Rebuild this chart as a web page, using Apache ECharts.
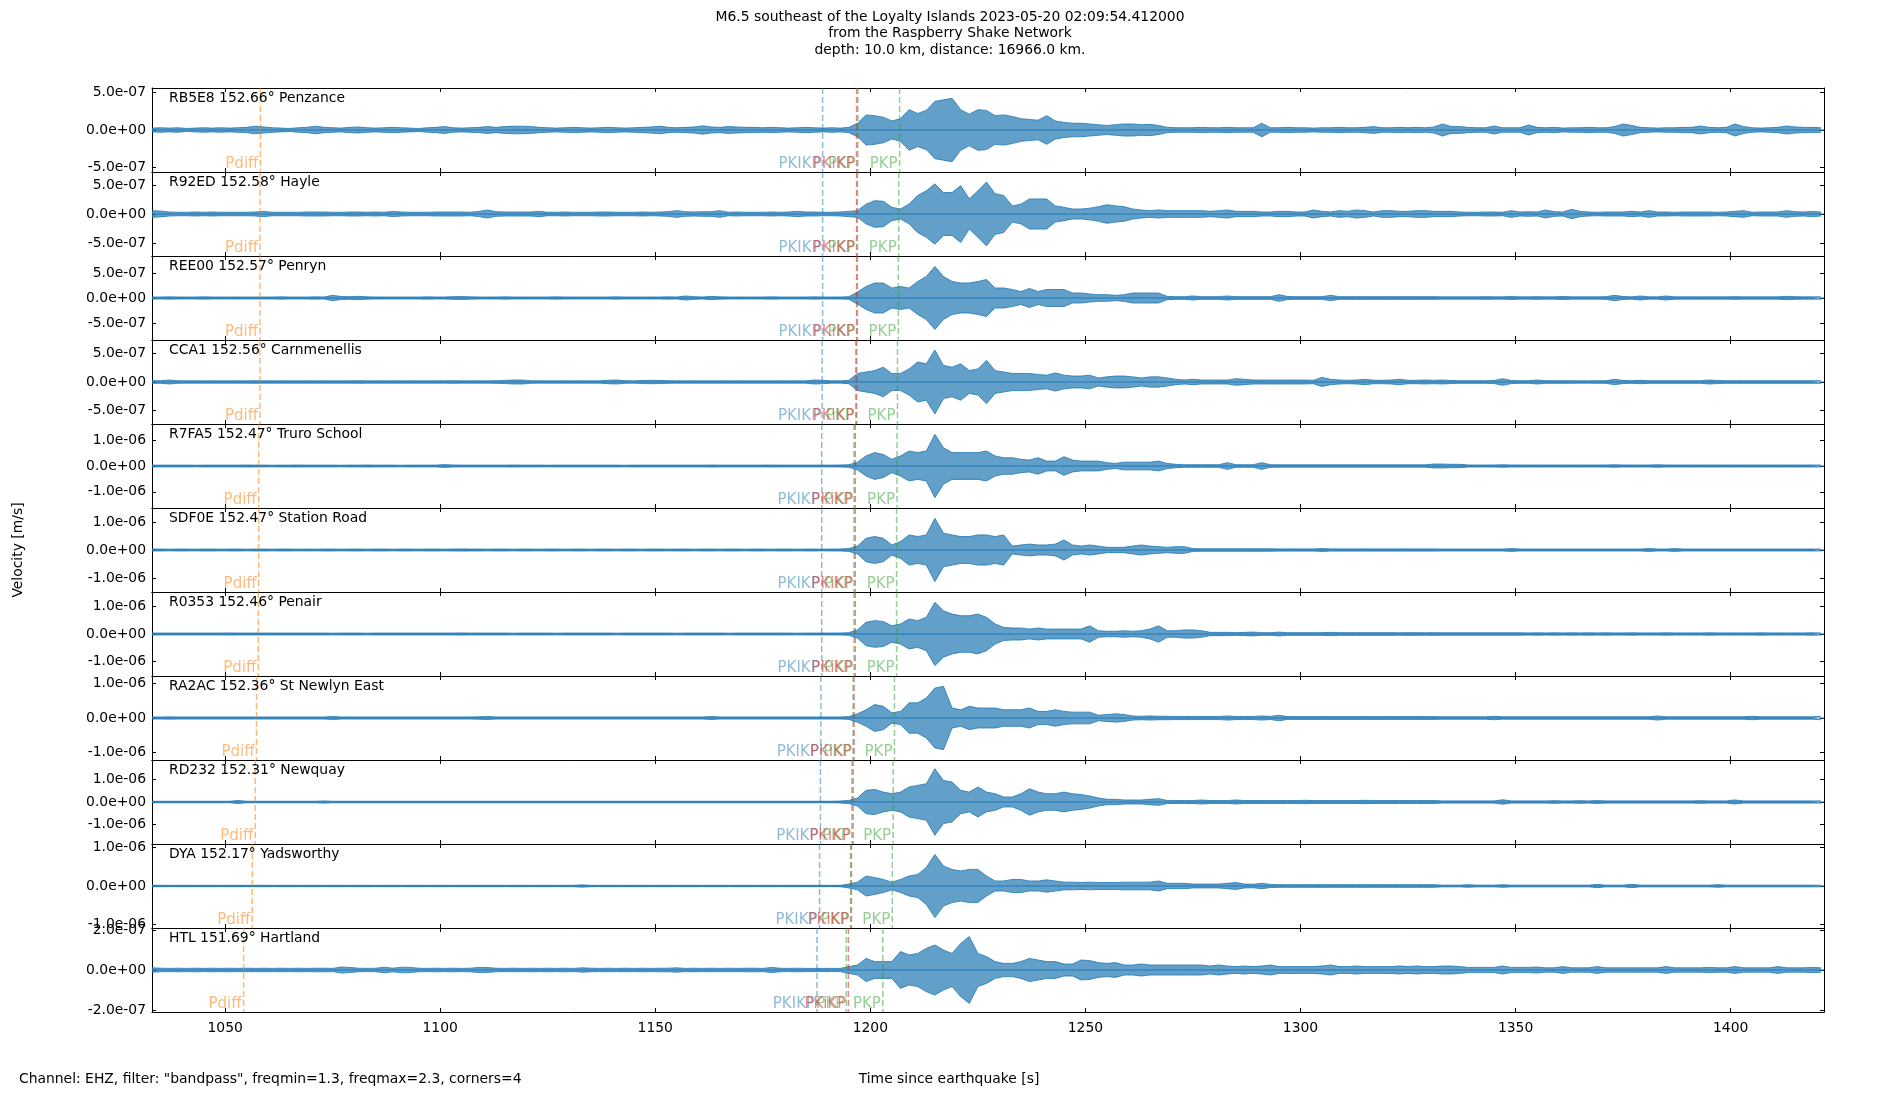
<!DOCTYPE html>
<html>
<head>
<meta charset="utf-8">
<script src="https://cdn.jsdelivr.net/npm/echarts@6/dist/echarts.min.js"></script>
<style>
  html, body { margin: 0; padding: 0; background: #fff; }
  #chart { width: 1900px; height: 1100px; }
</style>
</head>
<body>
<div id="chart"></div>
<script>
// stations, top to bottom
const stationCodes = ['RB5E8', 'R92ED', 'REE00', 'CCA1', 'R7FA5', 'SDF0E', 'R0353', 'RA2AC', 'RD232', 'DYA', 'HTL'];
const distances = ['152.66', '152.58', '152.57', '152.56', '152.47', '152.47', '152.46', '152.36', '152.31', '152.17', '151.69'];
const places = ['Penzance', 'Hayle', 'Penryn', 'Carnmenellis', 'Truro School', 'Station Road', 'Penair', 'St Newlyn East', 'Newquay', 'Yadsworthy', 'Hartland'];

// y limits and tick step of every panel [m/s]
const yLimits = [5.57e-7, 7.24e-7, 8.4e-7, 7.37e-7, 1.63e-6, 1.5e-6, 1.54e-6, 1.22e-6, 1.87e-6, 1.09e-6, 2.1e-7];
const yTickSteps = [5e-7, 5e-7, 5e-7, 5e-7, 1e-6, 1e-6, 1e-6, 1e-6, 1e-6, 1e-6, 2e-7];

// time axis [s since earthquake]
const xMin = 1033.0, xMax = 1421.7;
const xTicks = [1050, 1100, 1150, 1200, 1250, 1300, 1350, 1400];

// predicted arrivals [s]
const pdiffTimes = [1058.2, 1058.1, 1058.1, 1058.1, 1057.8, 1057.8, 1057.7, 1057.3, 1057.0, 1056.3, 1054.3];
const pkikpTimes = [1188.9, 1188.9, 1188.9, 1188.8, 1188.7, 1188.7, 1188.7, 1188.5, 1188.4, 1188.2, 1187.6];
const pkiKpTimes = [1196.8, 1196.8, 1196.8, 1196.8, 1196.5, 1196.5, 1196.5, 1196.2, 1196.0, 1195.6, 1194.9];
const pkpATimes = [1197.1, 1197.0, 1197.0, 1196.6, 1196.2, 1196.2, 1196.2, 1196.0, 1195.7, 1195.4, 1194.4];
const pkpBTimes = [1206.8, 1206.6, 1206.5, 1206.3, 1206.2, 1206.1, 1206.1, 1205.6, 1205.3, 1205.1, 1202.9];
const phaseNames = ['Pdiff', 'PKIKP', 'PKiKP', 'PKP'];
const phaseColors = ['rgba(255,127,14,0.55)', 'rgba(31,119,180,0.5)', 'rgba(214,39,40,0.55)', 'rgba(44,160,44,0.5)'];

// trace envelopes: peak |velocity| in 1e-8 m/s, one value every 2 s from 1033 s
const envStart = 1033, envStep = 2, envUnit = 1e-8;
const envRB5E8 = [2.5,3,2.5,3,2,2.5,3,2.5,3,2.5, 3,3.5,5,4,3,2.5,2,3,3.5,5, 3.5,3,2.5,3.5,4,3,2.5,3,3.5,3,
  2.5,2,3,3.5,4.5,3,2.5,3,3.5,4.5, 3.5,4.5,5,5,4.5,3.5,3,2.5,3,3.5, 3,2.5,3,3.5,3,2.5,3,3.5,4,5,
  3.5,3,3.5,4,5.5,4,3.5,4.5,4,3.5, 3.5,3,3.5,3,2.5,3,3.5,3,2.5,3, 2.5,3.5,9,20,19,17,12,15,27,22,
  26,38,40,42,27,21,27,26,19,20, 18,15,14,13,19,12,10,9,9,8, 7,6,7,8,8,7,7.5,6,3.5,3,
  3,3,3.5,3,3,3.5,3,3,3,9, 3,3,3.5,3,3,2.5,3,3,3.5,3, 3,3.5,4.5,3,3,3.5,3,3.5,3,4,
  8,4.5,4.5,3.5,3,3,5.3,3,3,3, 6.7,3.5,3,3.5,2.5,3,3,3.5,3,3, 4.5,8,6,3.5,3,2.5,3,3,3.5,3.5,
  5.3,3.5,3,3.5,8,4.5,3,2.5,3,3.5, 5.3,4,3.5,3.5,3];
const envR92ED = [5.8,5,3.5,3,3,3.5,3,3.5,3,3, 3,3,3.5,4.5,3,3,3,3,3.5,3.5, 3.5,3,3,3.5,3.5,3,3.5,3,4.5,3.5,
  3,3,3,3.5,3.5,3.5,3.5,3,4.5,6.9, 4,3.5,3.5,3.5,3.5,4.6,3,3,3.5,3, 3,3,3.5,3.5,3,3,3,3.5,3,3.5,
  4,5.8,4,3.5,4,4,5.8,3,3.5,3, 3,3,3.5,3,3.5,4.6,3.5,3.5,3,3, 3.5,4.6,5.8,17,23,22,11.5,8.6,17,32,
  40,52,37,37,49,26,40,55,35,32, 14,17,26,26,26,14,11.5,8.6,8.6,10, 12.6,16,14,12.6,8.6,7,5.8,7,5.8,5.8,
  5.8,5.8,5.8,4.6,5.8,7,4.6,4.6,4.6,3.5, 3.5,4.6,4.6,3.5,3.5,7,4.6,3.5,5.8,4.6, 7,5.8,3.5,5.8,5.8,4.6,4.6,5.8,5.8,4.6,
  4.6,4.6,3.5,3,3,3.5,3.5,3,5.8,3.5, 4,3.5,6.9,4,3.5,8,4.6,3.5,3,3.5, 3.5,3.5,4.6,3.5,5.8,3.5,3.5,3,3.5,3.5,
  3.5,3.5,3,3.5,4.6,5.8,3,3.5,3.5,3.5, 5.8,4,3.5,4.5,3.5];
const envREE00 = [2,2,2.3,2,2,2,2.3,2,2,2, 2,2,2,2,2,2.3,2,2,2,2.3, 2,5.3,3,2.7,3.3,2.3,2,2,2,2,
  2,2,2.3,2,2,2.7,3,2.3,2,2, 2,2.3,2,2,2,2,2,2.3,2,2, 2,2,2,2,2.3,2,2,2,2,2,
  2.3,2,4,2.7,2,3.3,2.3,2,2,2, 2,2,2.3,2,2,2,2,2.3,2,2, 2,2.7,12,23,30,30,20,23,20,33,
  43,63,43,33,30,30,33,37,20,20, 17,13,19,13,17,17,17,10,10,8, 6.7,6.7,5.3,6.7,10,10,10,10,3.3,2.7,
  2.7,4,2.7,2.7,2.7,4,2.7,2.7,2.7,2.7, 2.7,6.7,3,2.7,2.7,2.7,2.7,5.3,2.7,2.7, 2.7,2.7,2.7,2.7,2.7,2.7,2.7,2.7,2.7,2.7,
  2.3,2.3,2.3,2.3,2.3,2.7,2.3,2.3,3,2.3, 2.3,2.7,2.3,2.3,3,2.3,2.3,2.3,2.3,2.7, 5.3,3,2.3,4,2.3,2.3,4,2.3,2.3,2.3,
  2.3,2.3,2.3,2.3,2.7,2.3,2.3,2.3,2.3,2.3, 3.3,2.7,2.3,2.3,2.3];
const envCCA1 = [2.3,2.3,3.5,2.3,2,2,2,2,2,2, 2,2,2.3,2,2,2,2,2,2,2, 2,2,2,2,2.3,2,2,2,2,2,
  2,2,2,2,2,2.3,2,2,2,2, 2.3,2.7,3.5,3.5,2.3,2,2,2,2,2, 2,2,2,3,3.5,2.3,2,2.7,3,2.7,
  2.3,2,2,2,2,2,2,2,2,2, 2,2,2,2,2,2,2,3.5,3,2, 2,3,15,17.5,20,26,15,15,23,35,
  32,56,29,26,32,20,23,38,20,17.5, 15,15,15,13,12,16,12,10.5,10.5,12, 7,9,10.5,10.5,9,7,9,9,7,4.7,
  3.5,4.7,3.5,3.5,3.5,3.5,5.8,4.7,3.5,3.5, 3.5,3.5,3.5,3.5,3.5,3,8,4.7,3.5,3, 3.5,4.7,3,3,3.5,4.7,3,3,3.5,3,
  3.5,2.7,2.3,2.3,2.3,2.3,2.7,5.8,2.7,2.3, 2.3,3.5,2.3,2.3,2.3,2.3,2,2,2.3,2.3, 4.7,2.7,2.3,3,2.3,2.3,2.3,2.3,2.3,2.3,
  2.3,3.5,2.7,2.3,2.3,2.3,2.3,2.3,2.3,2.3, 2.3,2.3,2.3,2.3,2.3];
const envR7FA5 = [3.5,3.5,3.5,3.5,3.5,3,3.5,3.5,3.5,3.5, 3.5,4,3.5,3.5,3,3.5,3.5,4,3.5,3.5, 3.5,3.5,3,3.5,3.5,4,3.5,3.5,3.5,3,
  3.5,3.5,3.5,3.5,5.5,4,3.5,3.5,3.5,3.5, 3.5,3.5,4,3.5,3.5,3.5,3,3.5,3.5,3.5, 3.5,3.5,3.5,3.5,3.5,3,3.5,3.5,3.5,3.5,
  3.5,3.5,3.5,3.5,3.5,4,3.5,3.5,3.5,3.5, 3.5,3.5,4,3.5,3.5,3.5,3.5,3.5,3.5,3.5, 3.9,5,15,39,52,45,26,39,58,52,
  58,123,71,52,52,52,52,58,39,32, 32,26,23,32,19,19,36,23,19,19, 19,13,10,15,15,15,15,19,10,6.5,
  5,5,5,5,5,13,5,5,5,13, 5,4.5,4.5,4.5,4.5,4.5,4.5,4.5,4.5,4.5, 4.5,4.5,4.5,4.5,4.5,4.5,4.5,4.5,4.5,7.7,
  7.7,6.5,6.5,4,4,4,4,5,4,4, 4,4,4,4,4,4,4,4,4,4, 5,4,4,4,4,5,4,4,4,4,
  4,4,4,4,4,4,4,4,4,4, 4,4,4,4,4];
const envSDF0E = [3.5,3.5,3,3.5,3.5,3,3.5,3.5,3,3.5, 3.5,3,3.5,3.5,3,3.5,3.5,3,3.5,3, 3.5,3.5,3,3.5,3.5,3,3.5,3.5,3,3.5,
  3.5,3,3.5,3.5,3,3.5,4,3.5,3.5,3, 3.5,3.5,3,3.5,3.5,3,3.5,3.5,3,3.5, 3.5,3,3.5,3.5,3,3.5,3.5,3,3.5,3.5,
  3,3.5,3.5,3,3.5,3.5,3,3.5,3.5,3, 3.5,3.5,3,3.5,3.5,3,3.5,3.5,3,3.5, 3.6,5,14,42,48,42,18,30,54,48,
  54,113,60,54,48,48,54,54,48,54, 14,18,21,18,18,21,36,18,14,18, 14,9.5,9.5,9.5,14,18,14,12,9.5,12,
  12,5,4.5,4.5,4.5,4.5,4.5,4.5,4.5,4.5, 4.5,4,4,4,4,4,5,4,4,4, 4,4,4,4,4,4,4,4,4,4,
  3.5,3.5,3.5,3.5,3.5,3.5,3.5,3.5,5,3.5, 3.5,3.5,3.5,3.5,3.5,3.5,3.5,3.5,3.5,3.5, 3.5,3.5,3.5,3.5,5,3.5,3.5,5,3.5,3.5,
  3.5,3.5,3.5,3.5,3.5,3.5,3.5,3.5,3.5,3.5, 3.5,3.5,3.5,3.5,3.5];
const envR0353 = [3.5,3.5,3.5,3.5,3.5,3.5,3.5,3.5,3.5,4, 3.5,3.5,3.5,3.5,3.5,3.5,3.5,3.5,3.5,3.5, 3.5,3,3.5,3.5,3.5,3,3.5,3.5,3.5,3.5,
  3.5,3.5,3.5,3.5,3.5,3.5,4,3.5,3.5,3.5, 3.5,3.5,3,3.5,3.5,3.5,3.5,3,3.5,3.5, 3.5,3.5,3.5,3.5,3,3.5,3.5,3.5,3.5,3.5,
  3.5,3,3.5,3.5,3.5,3.5,3.5,3,3.5,3.5, 3.5,3.5,3.5,3.5,3.5,3,3.5,3.5,3.5,3.5, 3.7,5,15,43,49,46,30,37,55,49,
  61,116,85,73,67,67,73,61,37,24, 22,22,18,22,18,18,18,18,18,30, 12,10,10,12,10,12,18,30,12,12,
  15,15,12,6,6,6,5,6,7,5, 5,7,5,5,5,5,5,6,5,5, 5,5,5,5,5,4.5,5,5,4.5,5,
  4.5,4.5,4.5,4.5,4.5,4.5,4.5,4.5,4.5,4.5, 4,4.5,4,4.5,4,4.5,4,4.5,4,4.5, 4,4,4.5,4,4,4,4.5,4,4,4,
  4,4.5,4,4,4,4,4,4.5,4,4, 4,4,4,4.5,4];
const envRA2AC = [3,3,3.3,3,3,3,3,3,3,3, 3,3,3,3,3,3,3,3,3,3, 3,4.4,3,3,3,3,3,3,3,3,
  3,3,3,3,3,3,3,3,3.5,4.4, 3,3,3,3,3,3,3,3,3,3, 3,3,3,3,3,3,3,3,3,3,
  3,3,3,3,3,4.4,3,3,3,3, 3,3,3,3,3,3,3,3,3,3, 3,4,12,24,39,34,15,19,44,44,
  58,87,92,29,24,34,29,29,29,24, 24,24,29,19,19,24,19,17,17,17, 8,10,12,10,6,5,6,5,5,4.5,
  4.5,4.5,4.5,4.5,4.5,6,4.5,4.5,4.5,6, 4.5,8,4,4,4,4,4,4,4,4, 4,4,4,4,4,4,4,4,4,4,
  3.5,3.5,3.5,3.5,3.5,3.5,5,3.5,3.5,3.5, 3.5,3.5,3.5,3.5,3.5,3.5,3.5,3.5,3.5,3.5, 3.5,3.5,3.5,3.5,3.5,6,3.5,3.5,3.5,3.5,
  3.5,3.5,3.5,3.5,3.5,3.5,5,3.5,3.5,3.5, 3.5,3.5,3.5,3.5,5];
const envRD232 = [3.4,3.4,3.4,3.4,3.4,3.4,3.4,3.4,3.4,3.4, 6.7,3.4,3.4,3.4,3.4,3.4,3.4,3.4,3.4,3.4, 5,3.4,3.4,3.4,3.4,3.4,3.4,3.4,3.4,3.4,
  3.4,3.4,3.4,3.4,3.4,3.4,3.4,3.4,3.4,3.4, 3.4,3.4,3.4,3.4,3.4,3.4,3.4,3.4,3.4,3.4, 3.4,3.4,3.4,3.4,3.4,3.4,3.4,3.4,3.4,3.4,
  3.4,3.4,3.4,3.4,3.4,3.4,3.4,3.4,3.4,3.4, 3.4,3.4,3.4,3.4,3.4,3.4,3.4,3.4,3.4,3.4, 4.4,7,18,52,56,44,37,44,67,74,
  81,148,96,89,52,44,67,44,37,22, 22,37,59,44,37,37,44,37,33,27, 18,12,12,9,9,9,12,15,7,6.5,
  6.5,6.5,9,6.5,6.5,6.5,9,6.5,6.5,6.5, 6.5,6.5,6.5,6.5,7.5,6.5,6.5,6.5,6.5,6.5, 6.5,7.5,6.5,6.5,6.5,6.5,6.5,6.5,6.5,6.5,
  5,5,5,5,5,5,5,10,5,5, 5,5,5,6,5,5,6,5,6.5,5, 5,5,5,5,5,5,5,5,5,5,
  6,5,5,5,9,5,5,5,5,5, 5,5,5,5,5];
const envDYA = [1.8,1.8,1.7,1.8,1.8,1.7,1.8,1.8,1.7,1.8, 1.8,1.7,1.8,1.8,1.7,1.8,1.8,1.7,1.8,1.8, 1.7,1.8,1.8,1.7,1.8,1.8,1.7,1.8,1.8,1.7,
  1.8,1.8,1.7,1.8,1.8,1.7,1.8,1.8,1.7,1.8, 1.8,1.7,1.8,1.8,1.7,1.8,1.8,1.7,1.8,1.8, 3,1.8,1.7,1.8,1.8,1.7,1.8,1.8,1.7,1.8,
  1.8,1.7,1.8,1.8,1.7,1.8,1.8,1.7,1.8,1.8, 1.7,1.8,1.8,1.7,1.8,1.8,1.7,1.8,1.8,1.7, 1.8,5,10,26,22,17,10,17,26,30,
  48,82,52,43,39,43,43,26,13,13, 17,17,13,13,16,13,10,10,9,10, 9,9,9,10,10,10,10,13,7,7,
  7,5,5,5,5,7,9,5,4.5,7, 4,3.5,3.5,3.5,3.5,3.5,3.5,3.5,3.5,3.5, 3.5,3.5,3.5,3.5,3.5,3.5,3.5,3.5,3.5,3.5,
  2.2,2.2,2.2,3.5,2.2,2.2,2.2,3.5,2.2,2.2, 2.2,2.2,2.2,2.2,2.2,2.2,2.2,2.2,4.3,2.2, 2.2,2.2,4.3,2.2,2.2,2.2,2.2,2.2,2.2,2.2,
  2.2,2.2,3.5,2.2,2.2,2.2,2.2,2.2,2.2,2.2, 2.2,2.2,2.2,2.2,2.2];
const envHTL = [1.1,0.9,0.8,0.9,0.8,0.9,0.8,0.9,0.8,0.9, 0.8,0.9,0.8,0.9,0.8,0.9,0.8,0.9,0.8,0.9, 0.9,0.8,1.5,1.3,0.9,0.8,0.9,1.4,0.9,1.4,
  1.3,0.9,0.8,0.9,0.8,0.9,0.8,0.9,1.3,1.2, 0.9,0.8,0.9,0.8,0.9,0.8,0.9,0.8,0.9,0.8, 1.1,0.9,0.8,0.9,0.8,0.9,0.8,0.9,0.8,0.9,
  0.9,1.1,0.8,0.9,0.8,0.9,0.8,0.9,0.8,0.9, 0.9,0.8,1.3,0.9,0.8,0.9,0.8,0.8,0.8,0.8, 0.8,1.7,2.5,5.8,4.2,4.2,4.2,9.2,7.5,8.3,
  10.8,12.5,10,8.3,13.3,16.7,8.3,6.7,4.2,3.3, 3.3,4.2,5.8,5,4.2,4.2,3,3,5,4.7, 3.7,3.3,3.7,2.5,2.5,3,2.5,2.5,2.5,2.5,
  2.5,2.5,2.5,2,2.5,2,1.7,2,1.7,2, 2.5,1.7,1.7,1.7,1.7,1.7,2,2.5,1.7,1.7, 2,1.7,1.7,1.7,1.7,2,1.7,2,1.7,1.7,
  2,2,1.7,1.3,1.3,1.3,1.3,2,1.3,1.3, 1.3,1.5,1.1,1.1,1.7,1.1,1.1,1.1,1.7,1.1, 1.1,1.1,1.1,1.1,1.1,1.1,1.7,1.1,1.1,1.1,
  1.1,1.3,1.1,1.1,1.7,1.1,1.1,1.1,1.1,1.7, 1.1,1.1,1.1,1.3,1.1];
const envelopes = [envRB5E8, envR92ED, envREE00, envCCA1, envR7FA5, envSDF0E, envR0353, envRA2AC, envRD232, envDYA, envHTL];

// layout
const W = 1900, H = 1100;
const LEFT = 152, RIGHT = 76, TOP = 88, PANEL_H = 84;
const N = stationCodes.length;
const FONT = '"DejaVu Sans", sans-serif';
const TRACE = '#1f77b4';

function sci(v) {
  if (v === 0) return '0.0e+00';
  const m = v.toExponential(1).match(/^(-?\d\.\d)e([+-])(\d+)$/);
  return m[1] + 'e' + m[2] + m[3].padStart(2, '0');
}

function renderPhase(params, api) {
  const x = api.coord([api.value(0), 0])[0];
  const cs = params.coordSys;
  const kind = api.value(1);
  const color = phaseColors[kind];
  return {
    type: 'group',
    children: [
      { type: 'line', shape: { x1: x, y1: cs.y, x2: x, y2: cs.y + cs.height },
        style: { stroke: color, lineWidth: 1.5, lineDash: [6, 3] } },
      { type: 'text', x: x - 2, y: cs.y + cs.height,
        style: { text: phaseNames[kind], fill: color, font: '15px ' + FONT, align: 'right', verticalAlign: 'bottom' } }
    ]
  };
}

const grids = [], xAxes = [], yAxes = [], series = [], texts = [];
const tickStyle = { color: '#000', width: 1 };

for (let i = 0; i < N; i++) {
  const top = TOP + i * PANEL_H;
  grids.push({ left: LEFT, right: RIGHT, top: top, height: PANEL_H, outerBoundsMode: 'none' });
  const yl = yLimits[i], ys = yTickSteps[i];
  const yTicks = [-ys, 0, ys];
  const last = i === N - 1;
  xAxes.push({
    type: 'value', gridIndex: i, position: 'bottom', min: xMin, max: xMax,
    axisLine: { show: true, onZero: false, lineStyle: tickStyle },
    axisTick: { show: true, inside: true, length: 4, customValues: xTicks, lineStyle: tickStyle },
    axisLabel: { show: last, customValues: xTicks, margin: 9, color: '#000', fontSize: 13.9, fontFamily: FONT,
      formatter: v => String(v) },
    splitLine: { show: false }
  });
  yAxes.push({
    type: 'value', gridIndex: i, position: 'left', min: -yl, max: yl,
    axisLine: { show: true, onZero: false, lineStyle: tickStyle },
    axisTick: { show: true, inside: true, length: 4, customValues: yTicks, lineStyle: tickStyle },
    axisLabel: { show: true, customValues: yTicks, margin: 6, color: '#000', fontSize: 13.9, fontFamily: FONT,
      formatter: v => sci(v) },
    splitLine: { show: false }
  });

  const env = envelopes[i];
  const upper = env.map((a, k) => [envStart + k * envStep, a * envUnit]);
  const lower = env.map((a, k) => [envStart + k * envStep, -a * envUnit]);
  [upper, lower].forEach(d => series.push({
    type: 'line', xAxisIndex: i, yAxisIndex: i, data: d, symbol: 'none', silent: true,
    lineStyle: { color: TRACE, width: 0.8 }, areaStyle: { color: TRACE, opacity: 0.7 }, z: 2
  }));
  // zero crossing line of the trace
  series.push({
    type: 'line', xAxisIndex: i, yAxisIndex: i, data: [[xMin, 0], [xMax, 0]], symbol: 'none', silent: true,
    lineStyle: { color: TRACE, width: 1.2 }, z: 2
  });

  series.push({
    type: 'custom', xAxisIndex: i, yAxisIndex: i, renderItem: renderPhase, silent: true, z: 3,
    encode: { x: 0 },
    data: [[pdiffTimes[i], 0], [pkikpTimes[i], 1], [pkpATimes[i], 3], [pkiKpTimes[i], 2], [pkpBTimes[i], 3]]
  });

  texts.push({
    type: 'text', x: LEFT + 17, y: top + 3,
    style: { text: stationCodes[i] + ' ' + distances[i] + '\u00b0 ' + places[i], fill: '#000', font: '13.9px ' + FONT,
      align: 'left', verticalAlign: 'top' }, z: 10
  });
}

// mirror axes for ticks on top and right of every panel
for (let i = 0; i < N; i++) {
  xAxes.push({
    type: 'value', gridIndex: i, position: 'top', min: xMin, max: xMax,
    axisLine: { show: true, onZero: false, lineStyle: tickStyle },
    axisTick: { show: true, inside: true, length: 4, customValues: xTicks, lineStyle: tickStyle },
    axisLabel: { show: false }, splitLine: { show: false }
  });
  const ys = yTickSteps[i];
  yAxes.push({
    type: 'value', gridIndex: i, position: 'right', min: -yLimits[i], max: yLimits[i],
    axisLine: { show: true, onZero: false, lineStyle: tickStyle },
    axisTick: { show: true, inside: true, length: 4, customValues: [-ys, 0, ys], lineStyle: tickStyle },
    axisLabel: { show: false }, splitLine: { show: false }
  });
}

texts.push(
  { type: 'text', x: 950, y: 9,
    style: { text: 'M6.5 southeast of the Loyalty Islands 2023-05-20 02:09:54.412000\nfrom the Raspberry Shake Network\ndepth: 10.0 km, distance: 16966.0 km.',
      fill: '#000', font: '13.9px ' + FONT, align: 'center', verticalAlign: 'top', lineHeight: 16.4 } },
  { type: 'text', x: 18, y: 550, rotation: Math.PI / 2,
    style: { text: 'Velocity [m/s]', fill: '#000', font: '13.9px ' + FONT, align: 'center', verticalAlign: 'middle' } },
  { type: 'text', x: 19, y: 1079,
    style: { text: 'Channel: EHZ, filter: "bandpass", freqmin=1.3, freqmax=2.3, corners=4', fill: '#000', font: '13.9px ' + FONT,
      align: 'left', verticalAlign: 'middle' } },
  { type: 'text', x: 949, y: 1079,
    style: { text: 'Time since earthquake [s]', fill: '#000', font: '13.9px ' + FONT, align: 'center', verticalAlign: 'middle' } }
);

const chart = echarts.init(document.getElementById('chart'), null, { renderer: 'canvas', width: W, height: H });
chart.setOption({
  animation: false,
  backgroundColor: '#fff',
  grid: grids,
  xAxis: xAxes,
  yAxis: yAxes,
  series: series,
  graphic: { elements: texts }
});
</script>
</body>
</html>
